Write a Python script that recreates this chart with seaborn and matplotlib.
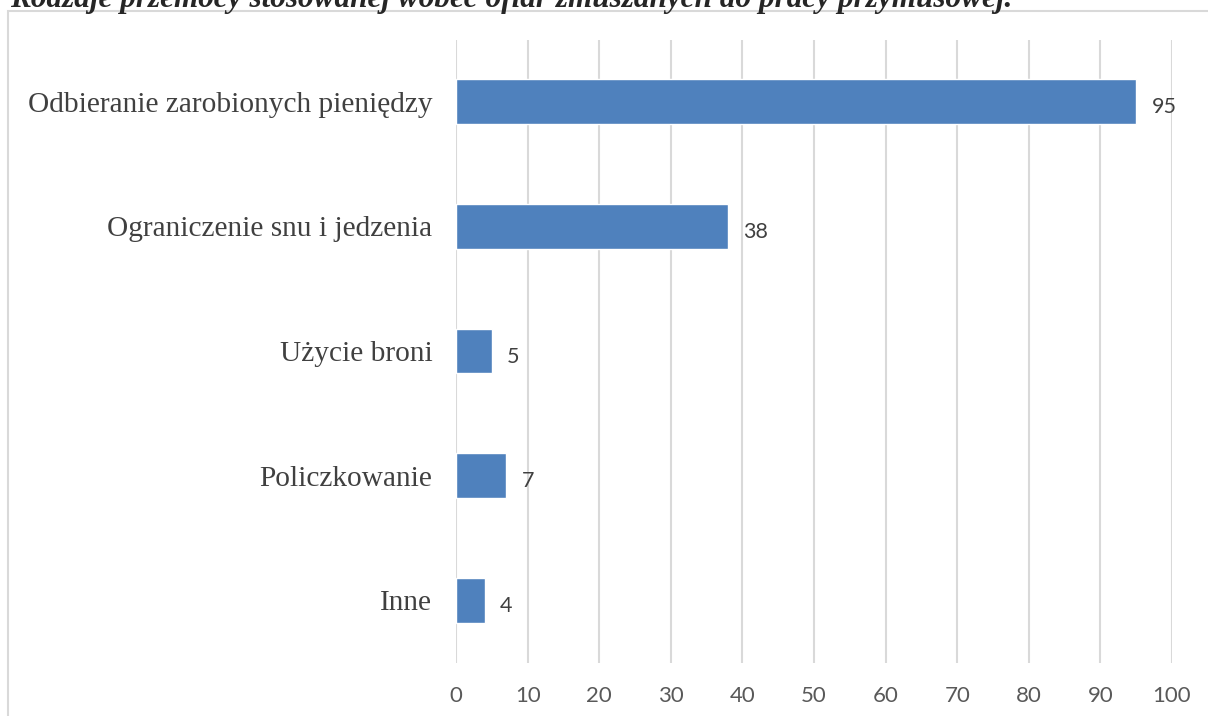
import matplotlib
matplotlib.use("Agg")
import matplotlib.pyplot as plt
import seaborn as sns
import pandas as pd
from matplotlib.patches import Rectangle

# values
categories = ["Odbieranie zarobionych pieniędzy", "Ograniczenie snu i jedzenia",
              "Użycie broni", "Policzkowanie", "Inne"]
counts = [95, 38, 5, 7, 4]
x_ticks = [0, 10, 20, 30, 40, 50, 60, 70, 80, 90, 100]
title = "Rodzaje przemocy stosowanej wobec ofiar zmuszanych do pracy przymusowej."

df = pd.DataFrame({"kategoria": categories, "liczba": counts})

sns.set_theme(style="white")
plt.rcParams["font.family"] = ["Lato", "DejaVu Sans"]

fig = plt.figure(figsize=(12.08, 7.16), dpi=100)
ax = fig.add_axes([0.3775, 0.0747, 0.5927, 0.8701])

sns.barplot(data=df, x="liczba", y="kategoria", orient="h", color="#4F81BD",
            saturation=1, width=0.36, ax=ax)

ax.set_xlim(0, 100)
ax.set_ylim(4.5, -0.5)
ax.set_xticks(x_ticks)
ax.xaxis.grid(True, color="#D9D9D9", linewidth=1.5)
ax.set_axisbelow(True)
sns.despine(ax=ax, left=True, bottom=True)
ax.set_xlabel("")
ax.set_ylabel("")

ax.tick_params(axis="x", length=0, pad=17, labelsize=16, labelcolor="#595959")
ax.tick_params(axis="y", length=0, pad=17, labelsize=21.2, labelcolor="#404040")
for lbl in ax.get_yticklabels():
    lbl.set_fontfamily("Liberation Serif")

# value labels just right of each bar, sitting a little below the bar centre
for i, v in enumerate(counts):
    ax.annotate(str(v), xy=(v, i), xytext=(11, -4), textcoords="offset points",
                ha="left", va="center", fontsize=15.5, color="#404040")

# chart frame (cut off on the right and bottom in the original)
fig.patches.append(Rectangle((8 / 1208, -0.1), 1.2, 1 - 11 / 716 + 0.1,
                             transform=fig.transFigure, fill=False,
                             edgecolor="#D9D9D9", linewidth=1.5))

# title, clipped by the top edge as in the original
fig.text(10 / 1208, 1 - 7 / 716, title, family="Liberation Serif",
         weight="bold", style="italic", fontsize=22.5, va="baseline", ha="left")

fig.savefig("out.png", dpi=100)
